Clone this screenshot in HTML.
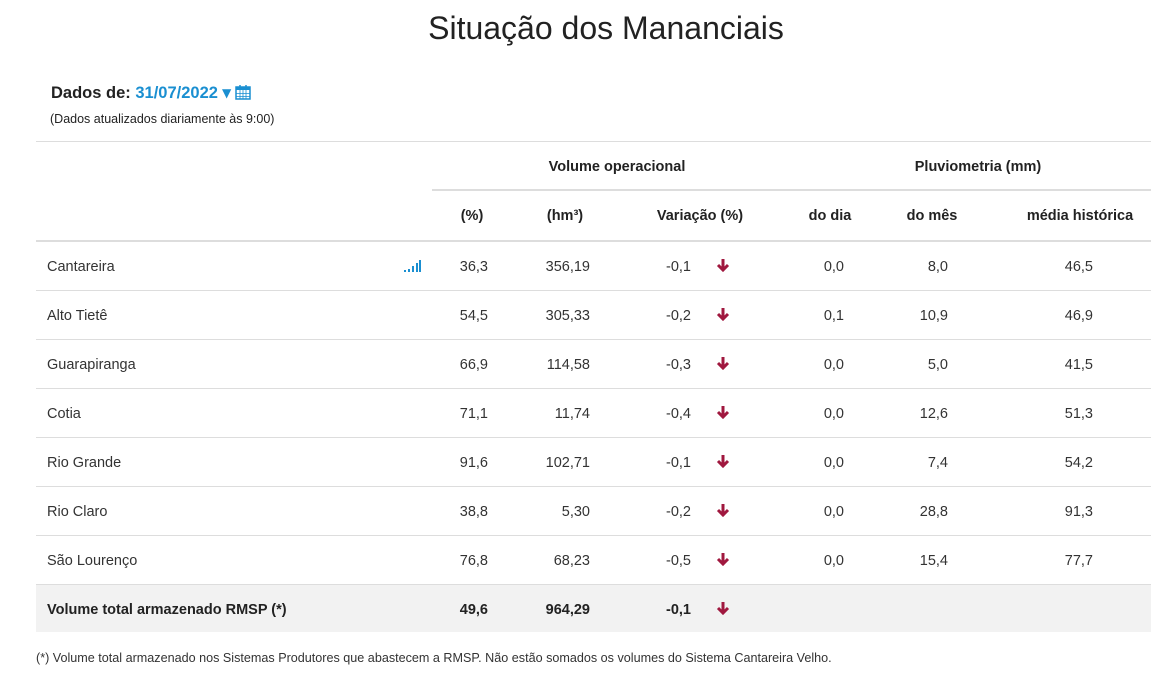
<!DOCTYPE html>
<html><head><meta charset="utf-8">
<style>
body{margin:0;width:1151px;height:679px;background:#fff;font-family:"Liberation Sans",sans-serif;color:#333;position:relative;overflow:hidden}
.a{position:absolute;white-space:nowrap}
.hl{position:absolute;height:1px;background:#ddd}
.t{font-size:14.5px;line-height:20px}
.b{font-weight:bold;color:#222}
.r{text-align:right}
.c{text-align:center}
</style></head><body>
<div class="a" style="left:0;width:1212px;top:10px;text-align:center;font-size:32px;color:#222">Situação dos Mananciais</div>
<div class="a b" style="left:51px;top:83px;font-size:16.5px">Dados de: <span style="color:#1a8fd1">31/07/2022 ▾</span>
<svg width="16" height="16" viewBox="0 0 16 16" style="vertical-align:-2px"><rect x="1" y="3" width="14" height="12" fill="none" stroke="#1a8fd1" stroke-width="1.5"/><rect x="1" y="3" width="14" height="3" fill="#1a8fd1"/><line x1="5" y1="1" x2="5" y2="5" stroke="#1a8fd1" stroke-width="1.5"/><line x1="11" y1="1" x2="11" y2="5" stroke="#1a8fd1" stroke-width="1.5"/><path d="M1 9.5H15M1 12.5H15M5 6V15M8 6V15M11 6V15" stroke="#1a8fd1" stroke-width="0.8"/></svg></div>
<div class="a" style="left:50px;top:112px;font-size:12.5px;color:#222">(Dados atualizados diariamente às 9:00)</div>
<div class="hl" style="left:36px;width:1115px;top:141px"></div>
<div class="hl" style="left:432px;width:719px;top:189px;height:2px"></div>
<div class="hl" style="left:36px;width:1115px;top:240px;height:2px"></div>
<div class="a t b c" style="left:432px;width:370px;top:157px">Volume operacional</div>
<div class="a t b c" style="left:808px;width:340px;top:157px">Pluviometria (mm)</div>
<div id="tbl"></div>
<div class="a" style="left:36px;top:651px;font-size:12.6px;color:#333">(*) Volume total armazenado nos Sistemas Produtores que abastecem a RMSP. Não estão somados os volumes do Sistema Cantareira Velho.</div>
<script>
const headers=["(%)","(hm³)","Variação (%)","do dia","do mês","média histórica"];
const names=["Cantareira","Alto Tietê","Guarapiranga","Cotia","Rio Grande","Rio Claro","São Lourenço"];
const pct=["36,3","54,5","66,9","71,1","91,6","38,8","76,8"];
const hm3=["356,19","305,33","114,58","11,74","102,71","5,30","68,23"];
const varia=["-0,1","-0,2","-0,3","-0,4","-0,1","-0,2","-0,5"];
const dia=["0,0","0,1","0,0","0,0","0,0","0,0","0,0"];
const mes=["8,0","10,9","5,0","12,6","7,4","28,8","15,4"];
const hist=["46,5","46,9","41,5","51,3","54,2","91,3","77,7"];
const total=["Volume total armazenado RMSP (*)","49,6","964,29","-0,1"];
const T=document.getElementById('tbl');
const hc=[472,565,700,830,932,1080];
function div(cls,style,txt){const d=document.createElement('div');d.className='a t '+cls;d.style.cssText=style;d.textContent=txt;T.appendChild(d);return d;}
headers.forEach((h,i)=>{const d=div('b c','left:'+(hc[i]-80)+'px;width:160px;top:206px',h);

});
const rx=[488,590,691,844,948,1093];
function arrow(y){const s=document.createElementNS('http://www.w3.org/2000/svg','svg');s.setAttribute('width','14');s.setAttribute('height','14');s.setAttribute('viewBox','0 0 14 14');s.style.cssText='position:absolute;left:716px;top:'+(y-8)+'px';s.innerHTML='<path d="M7 1V11M2 7L7 12L12 7" stroke="#a0183f" stroke-width="3" fill="none"/>';


T.appendChild(s);}
names.forEach((n,i)=>{const cy=266+49*i;const top=cy-9;
const nd=div('','left:47px;top:'+top+'px',n);


[pct[i],hm3[i],varia[i],dia[i],mes[i],hist[i]].forEach((v,j)=>{const d=div('r','left:'+(rx[j]-100)+'px;width:100px;top:'+top+'px',v);

});
arrow(cy);
const l=document.createElement('div');l.className='hl';l.style.cssText='left:36px;width:1115px;top:'+(cy+24)+'px';T.appendChild(l);
});
const bg=document.createElement('div');bg.className='a';bg.style.cssText='left:36px;width:1115px;top:585px;height:47px;background:#f2f2f2';


T.appendChild(bg);
const tn=div('b','left:47px;top:600px',total[0]);


[1,2,3].forEach(j=>{const d=div('b r','left:'+(rx[j-1]-100)+'px;width:100px;top:600px',total[j]);

});
arrow(609);
const ic=document.createElementNS('http://www.w3.org/2000/svg','svg');ic.setAttribute('width','18');ic.setAttribute('height','14');ic.style.cssText='position:absolute;left:404px;top:259px';
ic.innerHTML='<rect x="0" y="11" width="2" height="2" fill="#1a8fd1"/><rect x="4" y="10" width="2" height="3" fill="#1a8fd1"/><rect x="8" y="7" width="2" height="6" fill="#1a8fd1"/><rect x="12" y="4" width="2" height="9" fill="#1a8fd1"/><rect x="15" y="1" width="2" height="12" fill="#1a8fd1"/>';


T.appendChild(ic);
</script>
</body></html>
